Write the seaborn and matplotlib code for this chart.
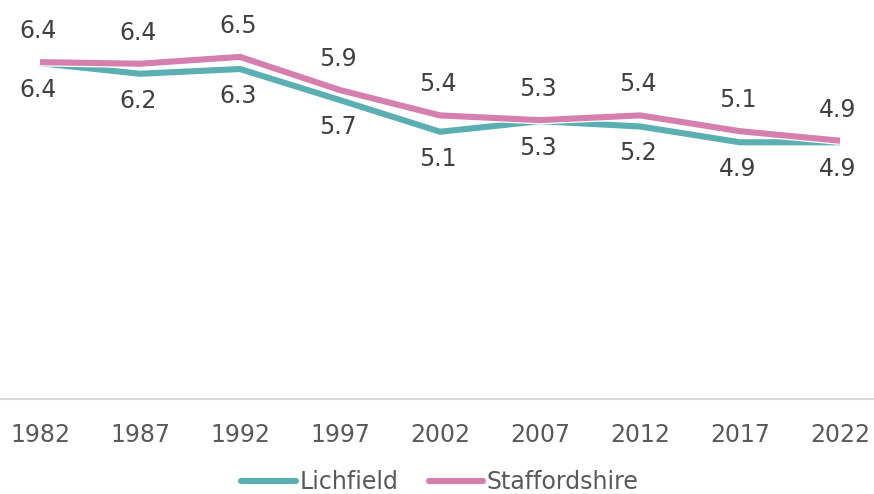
import matplotlib
matplotlib.use("Agg")
import matplotlib.pyplot as plt
import matplotlib.patheffects as pe
import seaborn as sns
import pandas as pd

years = ["1982", "1987", "1992", "1997", "2002", "2007", "2012", "2017", "2022"]
lichfield = [6.37, 6.17, 6.26, 5.67, 5.07, 5.27, 5.17, 4.87, 4.87]
staffordshire = [6.39, 6.36, 6.49, 5.86, 5.38, 5.29, 5.38, 5.08, 4.90]
series_names = ["Lichfield", "Staffordshire"]
colors = ["#5BAFB2", "#D47FAE"]

df = pd.DataFrame({
    "year": years * 2,
    "idx": list(range(len(years))) * 2,
    "value": lichfield + staffordshire,
    "series": [series_names[0]] * len(years) + [series_names[1]] * len(years),
})

sns.set_theme(style="white")
plt.rcParams["font.family"] = ["DejaVu Sans"]

fig = plt.figure(figsize=(8.74, 4.94), dpi=100)
ax = fig.add_axes([0, 95 / 494, 1, 369 / 494])

sns.lineplot(data=df, x="idx", y="value", hue="series", palette=colors,
             linewidth=4.4, ax=ax, legend=False, sort=False)
for line in ax.lines:
    line.set_path_effects([pe.Stroke(linewidth=6.2, foreground="white"), pe.Normal()])
    line.set_solid_capstyle("butt")
    line.set_solid_joinstyle("miter")

ax.set_xlim(-0.4, 8.34)
ax.set_ylim(0, 7)
ax.set_xticks(range(len(years)))
ax.set_xticklabels(years, fontsize=17, color="#595959")
ax.tick_params(axis="x", length=0, pad=17)
ax.set_yticks([])
ax.set_xlabel("")
ax.set_ylabel("")
for s in ["top", "left", "right"]:
    ax.spines[s].set_visible(False)
ax.spines["bottom"].set_color("#D9D9D9")
ax.spines["bottom"].set_linewidth(1.5)

for i, (a, b) in enumerate(zip(lichfield, staffordshire)):
    ax.annotate(f"{a:.1f}", (i, a), xytext=(-2, -27), textcoords="offset pixels",
                ha="center", va="center", fontsize=17, color="#404040")
    ax.annotate(f"{b:.1f}", (i, b), xytext=(-2, 31), textcoords="offset pixels",
                ha="center", va="center", fontsize=17, color="#404040")

handles = [plt.Line2D([], [], color=c, linewidth=4.4, solid_capstyle="round") for c in colors]
fig.legend(handles, series_names, loc="center", bbox_to_anchor=(440 / 874, 1 - 482 / 494),
           ncol=2, frameon=False, fontsize=17, handlelength=2.3, handletextpad=0.15,
           columnspacing=1.3, labelcolor="#595959", borderpad=0.1)

fig.savefig("out.png", dpi=100, facecolor="white")
